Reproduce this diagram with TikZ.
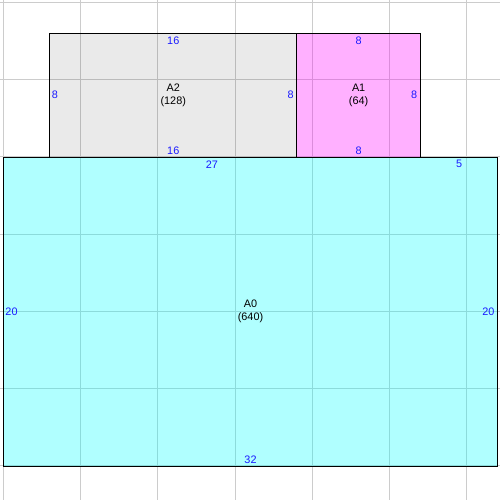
\documentclass[tikz,border=0pt]{standalone}
\usepackage{fontspec}
\setmainfont{Liberation Sans}
\definecolor{cyanfill}{HTML}{00FFFF}
\definecolor{pinkfill}{HTML}{FF00FF}
\definecolor{grayfill}{HTML}{000000}
\definecolor{lblblue}{HTML}{1A1AFF}
\begin{document}
\begin{tikzpicture}[x=0.5cm,y=0.5cm,
  room/.style={draw=black, line width=0.8pt, inner sep=0pt, outer sep=0pt, align=center, font=\fontsize{10}{11.5}\selectfont},
  dimlbl/.style={text=lblblue, inner sep=1.5pt, font=\fontsize{10}{11.5}\selectfont},
  toplbl/.style={dimlbl, anchor=north, inner ysep=3pt},
  botlbl/.style={dimlbl, anchor=south, inner ysep=1.6pt},
  leftlbl/.style={dimlbl, anchor=west, inner xsep=1.8pt},
  rightlbl/.style={dimlbl, anchor=east, inner xsep=2.8pt},
  gridline/.style={color={rgb,255:red,204;green,204;blue,204}, line width=0.9pt}]
\useasboundingbox (-0.215,-2.2) rectangle (32.15,30.16);
\draw[gridline, step=5] (-0.215,-2.2) grid (32.15,30.16);
\node[room, fill=cyanfill, fill opacity=0.31, text opacity=1, minimum width=16cm, minimum height=10cm] (A0) at (16,10) {A0\\(640)};
\node[room, fill=grayfill, fill opacity=0.082, text opacity=1, minimum width=8cm, minimum height=4cm] (A2) at (11,24) {A2\\(128)};
\node[room, fill=pinkfill, fill opacity=0.31, text opacity=1, minimum width=4cm, minimum height=4cm] (A1) at (23,24) {A1\\(64)};
% A2 labels
\node[toplbl] (a2t) at (A2.north) {16};
\node[botlbl] (a2b) at (A2.south) {16};
\node[leftlbl] (a2l) at (A2.west) {8};
\node[rightlbl] (a2r) at (A2.east) {8};
% A1 labels
\node[toplbl] (a1t) at (A1.north) {8};
\node[botlbl] (a1b) at (A1.south) {8};
\node[rightlbl] (a1r) at (A1.east) {8};
% A0 labels
\coordinate (t1) at (13.5,20);
\coordinate (t2) at (29.5,20);
\node[toplbl] (a0t1) at (t1) {27};
\node[toplbl] (a0t2) at (t2) {5};
\node[botlbl] (a0b) at (A0.south) {32};
\node[leftlbl] (a0l) at (A0.west) {20};
\node[rightlbl] (a0r) at (A0.east) {20};
\end{tikzpicture}
\end{document}
